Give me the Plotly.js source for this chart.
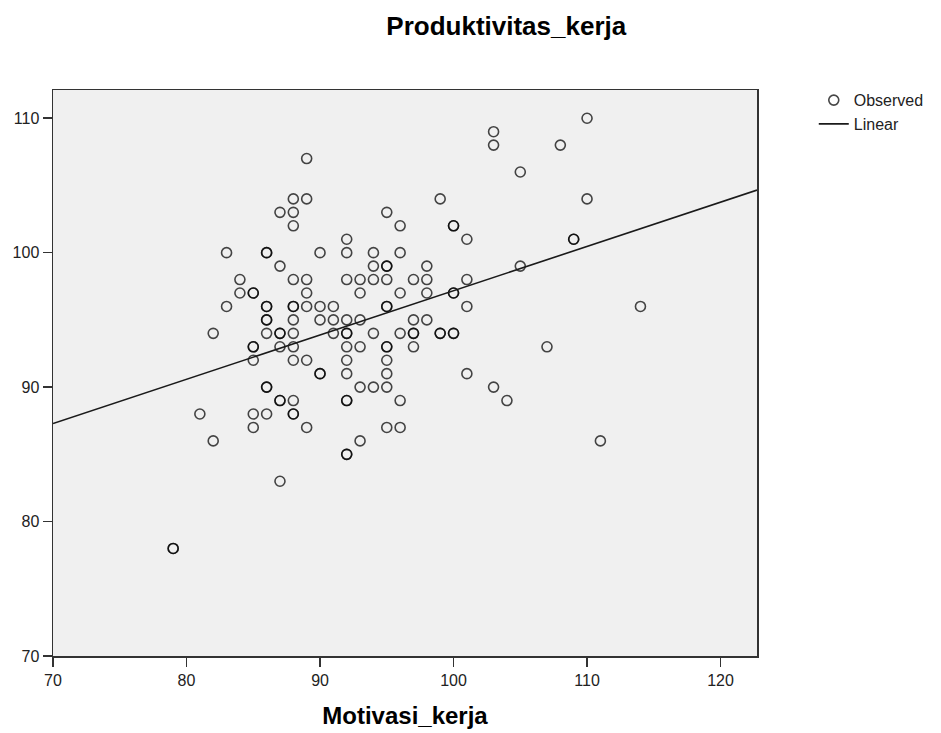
<!DOCTYPE html>
<html>
<head>
<meta charset="utf-8">
<script src="https://cdn.plot.ly/plotly-3.0.1.min.js"></script>
<style>html,body{margin:0;padding:0;background:#fff;}#chart{width:941px;height:733px;}</style>
</head>
<body>
<div id="chart"></div>
<script>
// Motivasi_kerja (x) and Produktivitas_kerja (y)
const motivasi = [
  79,79,
  81,
  82,82,
  83,83,
  84,84,
  85,85,85,85,85,85,85,
  86,86,86,86,86,86,86,86,86,86,
  87,87,87,87,87,87,87,87,
  88,88,88,88,88,88,88,88,88,88,88,88,88,
  89,89,89,89,89,89,89,
  90,90,90,90,90,
  91,91,91,
  92,92,92,92,92,92,92,92,92,92,92,92,92,
  93,93,93,93,93,93,
  94,94,94,94,94,
  95,95,95,95,95,95,95,95,95,95,95,95,
  96,96,96,96,96,96,
  97,97,97,97,97,
  98,98,98,98,
  99,99,99,
  100,100,100,100,100,100,
  101,101,101,101,
  103,103,103,
  104,
  105,105,
  107,
  108,
  109,109,
  110,110,
  111,
  114
];
const produktivitas = [
  78,78,
  88,
  94,86,
  100,96,
  98,97,
  97,97,93,93,92,88,87,
  100,100,96,96,95,95,94,90,90,88,
  103,99,94,94,93,89,89,83,
  104,103,102,98,96,96,95,94,93,92,89,88,88,
  107,104,98,97,96,92,87,
  100,96,95,91,91,
  96,95,94,
  101,100,98,95,94,94,93,92,91,89,89,85,85,
  98,97,95,93,90,86,
  100,99,98,94,90,
  103,99,99,98,96,96,93,93,92,91,90,87,
  102,100,97,94,89,87,
  98,95,94,94,93,
  99,98,97,95,
  104,94,94,
  102,102,97,97,94,94,
  101,98,96,91,
  109,108,90,
  89,
  106,99,
  93,
  108,
  101,101,
  110,104,
  86,
  96
];
const xTicks = [70, 80, 90, 100, 110, 120];
const yTicks = [70, 80, 90, 100, 110];
const xRange = [70, 122.73];
const yRange = [70, 112.1];

// Linear fit line as shown in the chart (intercept and slope)
const fitIntercept = 64.23;
const fitSlope = 0.3294;
const lineX = [xRange[0], xRange[1]];
const lineY = lineX.map(v => fitIntercept + fitSlope * v);

const traces = [
  {
    x: motivasi, y: produktivitas, type: 'scatter', mode: 'markers', name: 'Observed',
    marker: { symbol: 'circle-open', size: 10, color: 'rgba(0,0,0,0.72)', line: { width: 1.6, color: 'rgba(0,0,0,0.72)' } },
    cliponaxis: false
  },
  {
    x: lineX, y: lineY, type: 'scatter', mode: 'lines', name: 'Linear',
    line: { color: '#1a1a1a', width: 1.6 }
  }
];

const layout = {
  width: 941, height: 733,
  margin: { l: 53, r: 178, t: 90, b: 77 },
  paper_bgcolor: '#ffffff',
  plot_bgcolor: '#f0f0f0',
  font: { family: 'Liberation Sans, Arial, sans-serif', color: '#222', size: 16 },
  title: {
    text: '<b>Produktivitas_kerja</b>',
    font: { size: 26, color: '#000', family: 'Liberation Sans, Arial, sans-serif' },
    xref: 'container', x: 0.538, xanchor: 'center',
    yref: 'container', y: 0.964, yanchor: 'middle'
  },
  xaxis: {
    range: xRange, tickvals: xTicks, ticktext: xTicks.map(String),
    showgrid: false, zeroline: false,
    showline: true, linecolor: '#333', linewidth: 1.5, mirror: true,
    ticks: 'outside', ticklen: 9, tickwidth: 1.5, tickcolor: '#333',
    tickfont: { size: 16, color: '#222' },
    title: { text: '<b>Motivasi_kerja</b>', font: { size: 24, color: '#000' }, standoff: 19 }
  },
  yaxis: {
    range: yRange, tickvals: yTicks, ticktext: yTicks.map(String),
    showgrid: false, zeroline: false,
    showline: true, linecolor: '#333', linewidth: 1.5, mirror: true,
    ticks: 'outside', ticklen: 9, tickwidth: 1.5, tickcolor: '#333',
    tickfont: { size: 16, color: '#222' }
  },
  showlegend: true,
  legend: {
    x: 1.244, xanchor: 'right', y: 1.012, yanchor: 'top',
    bgcolor: 'rgba(0,0,0,0)', font: { size: 16, color: '#222' },
    tracegroupgap: 0, itemwidth: 30
  }
};

Plotly.newPlot('chart', traces, layout, { staticPlot: true, displayModeBar: false });
</script>
</body>
</html>
